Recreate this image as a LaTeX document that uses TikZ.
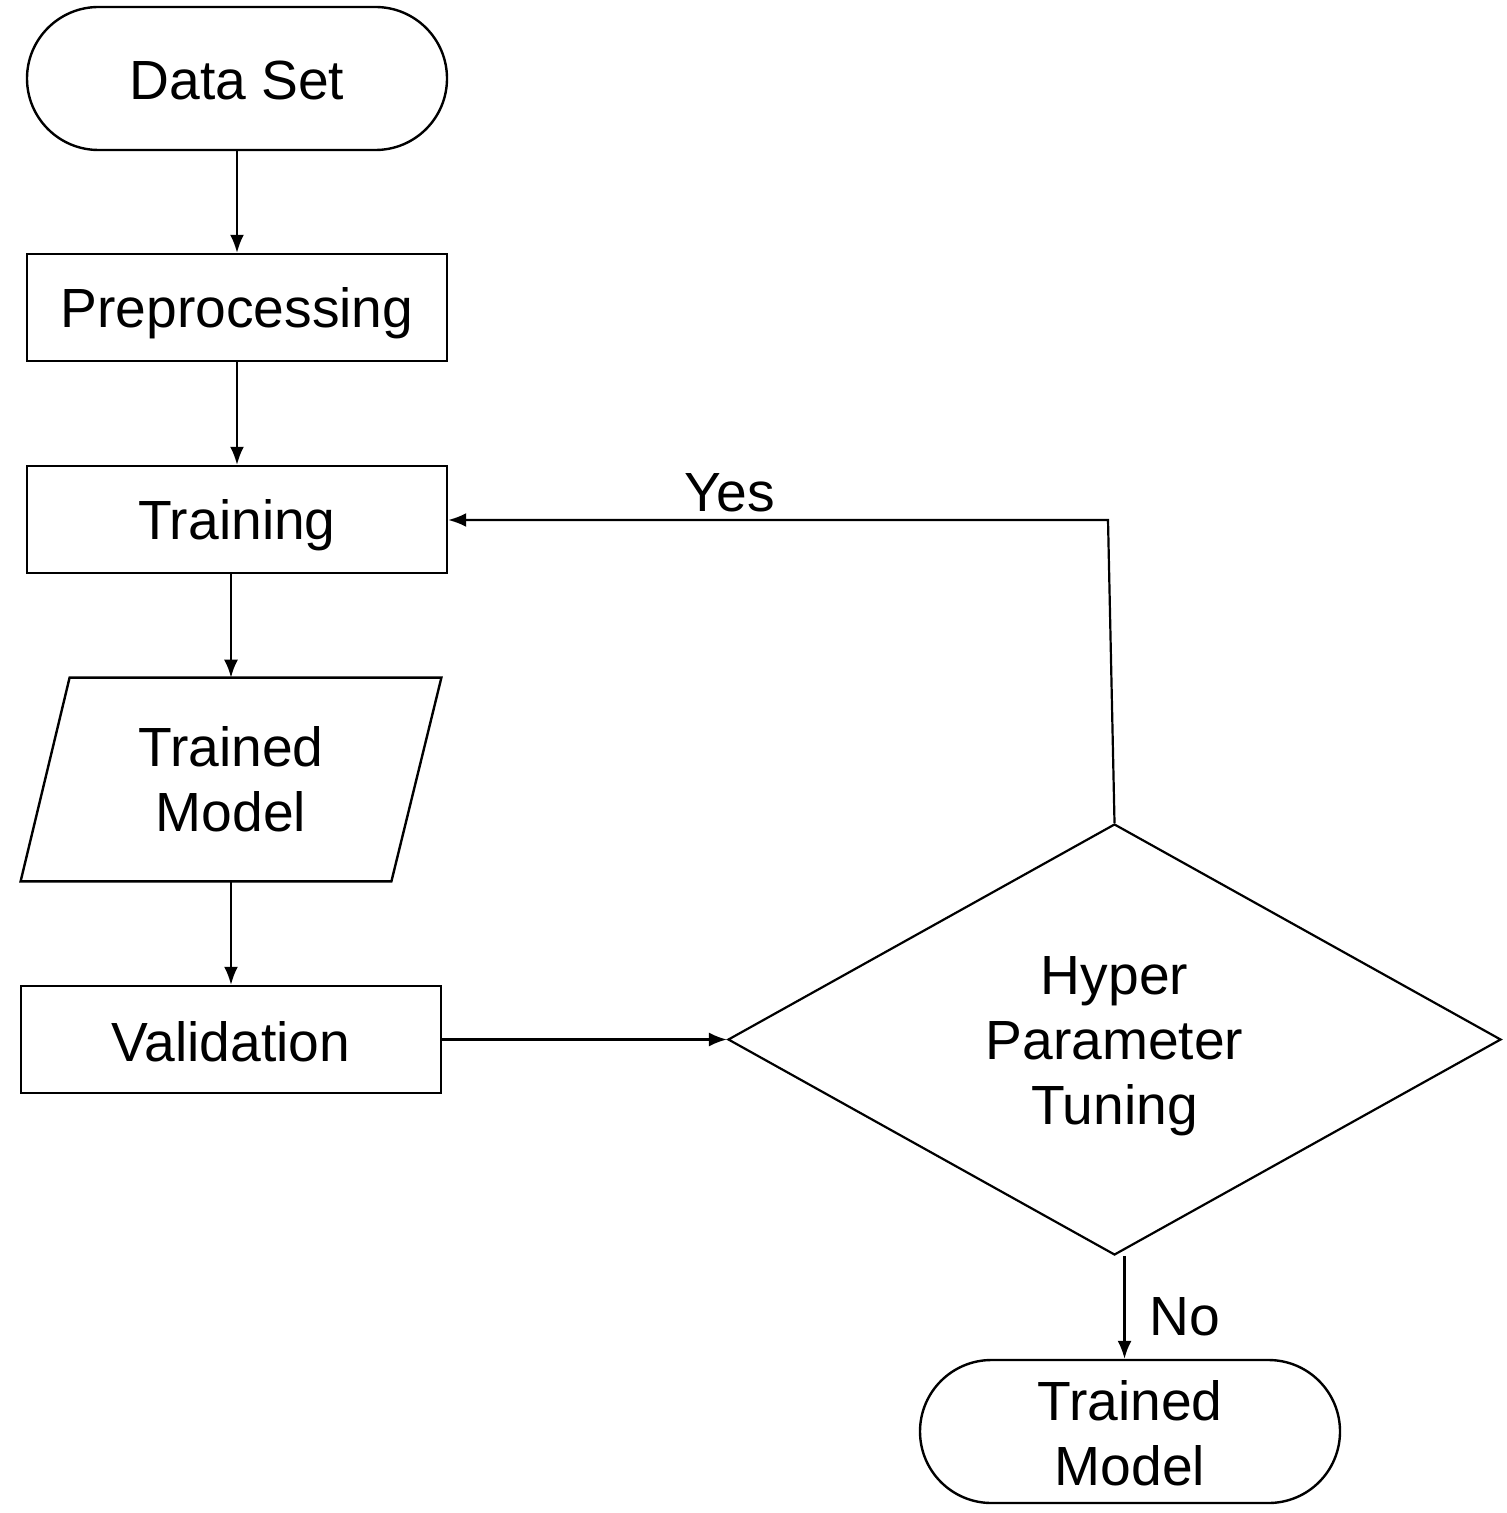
\documentclass[tikz,border=0pt]{standalone}
\usepackage{fontspec}
\setmainfont{Liberation Sans}
\usetikzlibrary{shapes.geometric,shapes.misc,arrows.meta}
\begin{document}
\begin{tikzpicture}[x=0.5pt,y=-0.5pt,
  every node/.style={inner sep=0pt},
  lbl/.style={font=\fontsize{27.6}{32.5}\selectfont, align=center},
  procbox/.style={draw, line width=1.2pt, rectangle, minimum width=210pt, minimum height=53.5pt},
  termbox/.style={draw, line width=1.2pt, rounded rectangle, minimum width=210pt, minimum height=71.5pt},
  iobox/.style={rectangle, minimum width=210pt, minimum height=101.5pt},
  decbox/.style={draw, line width=1.1pt, diamond, minimum width=386.5pt, minimum height=215.5pt},
  conn/.style={line width=1.1pt, -{Latex[length=9pt,width=7pt]}},
  plain/.style={line width=1.2pt}]
\useasboundingbox (0,0) rectangle (1506,1513);

\node[termbox] (ds) at (237,78.5) {};
\node[lbl] (dsl) at ([yshift=-1pt]ds.center) {Data Set};
\node[procbox] (pp) at (237,307.5) {};
\node[lbl] (ppl) at ([yshift=-3pt]pp.center) {Preprocessing};
\node[procbox] (tr) at (237,519.5) {};
\node[lbl] (trl) at ([yshift=-3pt]tr.center) {Training};
\node[iobox] (tm) at (231,779.5) {};
\node[lbl] (tml) at (tm.center) {Trained\\Model};
\draw[plain] ([xshift=24.5pt]tm.north west) -- (tm.north east) -- ([xshift=-25pt]tm.south east) -- (tm.south west) -- cycle;
\node[procbox] (va) at (231,1039.5) {};
\node[lbl] (val) at ([yshift=-1pt]va.center) {Validation};
\node[decbox] (hp) at (1114.5,1039.5) {};
\node[lbl] (hpl) at ([yshift=-3.5pt]hp.center) {Hyper\\Parameter\\Tuning};
\node[termbox] (fm) at (1130,1431.5) {};
\node[lbl] (fml) at ([yshift=-1pt]fm.center) {Trained\\Model};

\draw[conn] (ds.south) -- (pp.north);
\draw[conn] (pp.south) -- (tr.north);
\draw[conn] (tr.south -| tm.north) -- (tm.north);
\draw[conn] (tm.south) -- (va.north);
\draw[conn] (va.east) -- (hp.west);
\coordinate (yc) at (1108,520);
\draw[conn] (hp.north) -- (yc) -- (tr.east |- yc);
\node[lbl] (yes) at (730,493) {Yes};
\draw[conn] ([xshift=5pt]hp.south) -- ([xshift=5pt]hp.south |- fm.north);
\node[lbl] (no) at (1185,1317) {No};
\end{tikzpicture}
\end{document}
